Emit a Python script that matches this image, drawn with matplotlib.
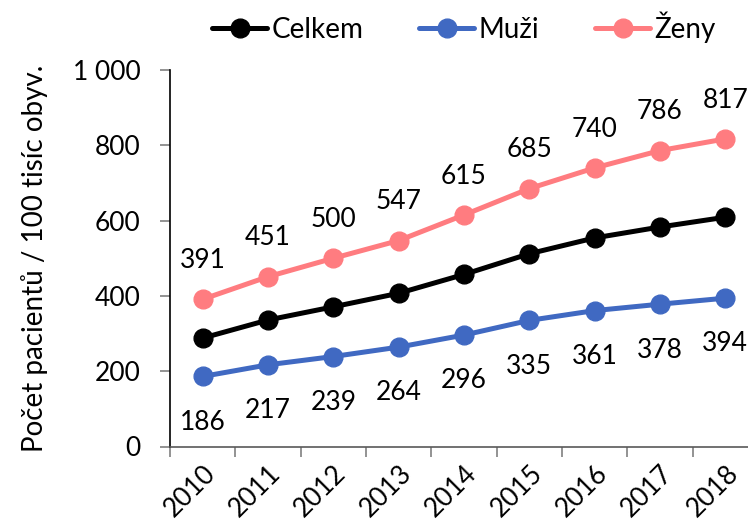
import matplotlib
matplotlib.use("Agg")
import matplotlib.pyplot as plt
from matplotlib.ticker import FixedLocator, NullFormatter

plt.rcParams["font.family"] = ["Lato", "DejaVu Sans"]

roky = ["2010", "2011", "2012", "2013", "2014", "2015", "2016", "2017", "2018"]
celkem = [288, 336, 371, 407, 457, 512, 554, 583, 609]
muzi = [186, 217, 239, 264, 296, 335, 361, 378, 394]
zeny = [391, 451, 500, 547, 615, 685, 740, 786, 817]
y_ticky = [0, 200, 400, 600, 800, 1000]
y_popisky = ["0", "200", "400", "600", "800", "1 000"]

BARVY = {"Celkem": "#000000", "Muži": "#4069C2", "Ženy": "#FF7C80"}
FS = 19      # čísla
FS_TXT = 20  # slovní popisky

fig = plt.figure(figsize=(7.48, 5.22), dpi=100)
ax = fig.add_axes([170 / 748, 1 - 446.5 / 522, 588 / 748, 376.5 / 522])

x = list(range(len(roky)))
for nazev, hodnoty in [("Celkem", celkem), ("Muži", muzi), ("Ženy", zeny)]:
    ax.plot(x, hodnoty, color=BARVY[nazev], lw=3.6, marker="o", ms=13.5,
            label=nazev, solid_capstyle="round")

# popisky hodnot: ženy nad body, muži pod body
for xi, v in zip(x, zeny):
    ax.annotate(str(v), (xi, v), xytext=(0, 28), textcoords="offset points",
                ha="center", va="center", fontsize=FS)
for xi, v in zip(x, muzi):
    ax.annotate(str(v), (xi, v), xytext=(0, -33), textcoords="offset points",
                ha="center", va="center", fontsize=FS)

ax.set_xlim(-0.5, len(roky) - 0.5)
ax.set_ylim(0, 1000)

# kategoriální osa: čárky mezi roky, popisky uprostřed
ax.xaxis.set_major_locator(FixedLocator([i - 0.5 for i in range(len(roky) + 1)]))
ax.xaxis.set_major_formatter(NullFormatter())
ax.xaxis.set_minor_locator(FixedLocator(x))
ax.set_xticklabels(roky, minor=True, rotation=45, ha="right", va="top",
                   rotation_mode="anchor", fontsize=FS)
ax.tick_params(axis="x", which="major", length=7, width=1.2, color="#808080", direction="out")
ax.tick_params(axis="x", which="minor", length=0, pad=10)

ax.set_yticks(y_ticky)
ax.set_yticklabels(y_popisky, fontsize=FS)
ax.tick_params(axis="y", length=7, width=1.2, color="#808080", pad=14)

ax.set_ylabel("Počet pacientů / 100 tisíc obyv.", fontsize=FS_TXT, labelpad=18)

for s in ("top", "right"):
    ax.spines[s].set_visible(False)
ax.spines["left"].set_color("#000000")
ax.spines["bottom"].set_color("#595959")
ax.spines["left"].set_linewidth(1.2)
ax.spines["bottom"].set_linewidth(1.2)

fig.legend(loc="center", bbox_to_anchor=(0.62, 0.948), ncol=3, frameon=False,
           fontsize=FS_TXT, handlelength=2.0, handletextpad=0.15, columnspacing=2.0,
           borderaxespad=0)

fig.savefig("out.png", dpi=100)
